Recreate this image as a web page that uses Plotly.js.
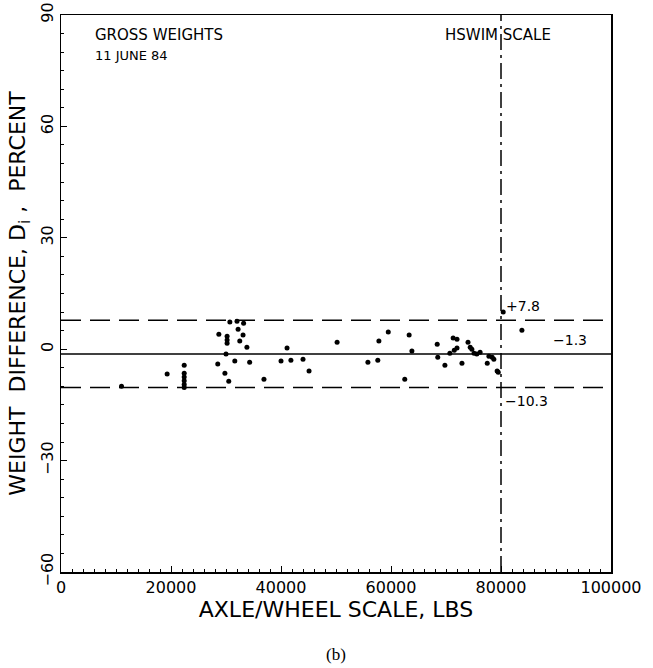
<!DOCTYPE html>
<html>
<head>
<meta charset="utf-8">
<script src="https://cdn.plot.ly/plotly-3.0.1.min.js"></script>
<style>html,body{margin:0;padding:0;background:#fff;}#chart{width:653px;height:668px;}</style>
</head>
<body>
<div id="chart"></div>
<script>
// Axle/wheel scale gross weight (lbs) vs weight difference (percent)
const axleWheelLbs = [
  11000, 19300, 22400, 22400, 22400, 22400, 22400, 22400,
  28500, 28700, 29800, 30000, 30200, 30200, 30200, 30500,
  30700, 31600, 32000, 32200, 32500, 33100, 33200, 33800, 34300,
  36900, 40000, 41100, 41800, 44000, 45100, 50200, 55800, 57600,
  57800, 59500, 62500, 63300, 63800, 68400, 68500, 69800, 70700,
  71300, 71500, 72000, 72000, 72900, 74000, 74400, 74700, 75100,
  75600, 76200, 77500, 77800, 78400, 78700, 79300, 79500, 80400, 83800
];
const weightDiffPct = [
  -10.0, -6.7, -4.3, -6.5, -7.5, -8.5, -9.5, -10.3,
  -4.0, 4.0, -6.5, -1.3, 3.5, 2.5, 1.6, -8.6,
  7.3, -3.2, 7.5, 5.4, 2.2, 3.8, 7.0, 0.5, -3.5,
  -8.1, -3.2, 0.3, -3.0, -2.7, -5.9, 1.9, -3.5, -3.0,
  2.2, 4.6, -8.1, 3.8, -0.5, 1.3, -2.2, -4.3, -1.1,
  3.0, -0.3, 2.7, 0.3, -3.8, 1.9, 0.5, 0.0, -1.1,
  -1.3, -0.8, -3.8, -1.9, -2.2, -2.7, -5.9, -6.2, 10.0, 5.1
];
// Reference lines: mean and band limits (percent), HSWIM scale limit (lbs)
const upperLimit = 7.8;
const meanDiff = -1.3;
const lowerLimit = -10.3;
const hswimLimit = 80000;
const xRange = [0, 100000];
const yRange = [-60, 90];
const xTicks = [0, 20000, 40000, 60000, 80000, 100000];
const yTicks = [-60, -30, 0, 30, 60, 90];

const font = "DejaVu Sans, Liberation Sans, sans-serif";

const traces = [
  {
    x: axleWheelLbs, y: weightDiffPct, type: "scatter", mode: "markers",
    marker: {color: "#000", size: 5}, hoverinfo: "skip", showlegend: false
  },
  {
    x: xRange, y: [upperLimit, upperLimit], type: "scatter", mode: "lines",
    line: {color: "#000", width: 1.5, dash: "20px,9px"}, showlegend: false
  },
  {
    x: xRange, y: [meanDiff, meanDiff], type: "scatter", mode: "lines",
    line: {color: "#000", width: 1.5}, showlegend: false
  },
  {
    x: xRange, y: [lowerLimit, lowerLimit], type: "scatter", mode: "lines",
    line: {color: "#000", width: 1.5, dash: "20px,9px"}, showlegend: false
  },
  {
    x: [hswimLimit, hswimLimit], y: yRange, type: "scatter", mode: "lines",
    line: {color: "#000", width: 1.5, dash: "16px,5px,3px,5px"}, showlegend: false
  }
];

const layout = {
  width: 653, height: 668,
  margin: {l: 61, r: 42, t: 15, b: 96},
  paper_bgcolor: "#fff", plot_bgcolor: "#fff",
  font: {family: font, color: "#000", size: 14},
  xaxis: {
    range: xRange, tickvals: xTicks, ticktext: xTicks.map(String),
    ticks: "inside", ticklen: 6, tickcolor: "#000", tickwidth: 1,
    minor: {dtick: 2000, ticks: "inside", ticklen: 3, tickcolor: "#000"},
    showline: true, linecolor: "#000", linewidth: 1.5, mirror: true,
    showgrid: false, zeroline: false,
    tickfont: {family: font, size: 16},
    title: {text: "AXLE/WHEEL SCALE, LBS", font: {family: font, size: 22}, standoff: 4}
  },
  yaxis: {
    range: yRange, tickvals: yTicks, ticktext: yTicks.map(v => v < 0 ? "\u2212" + Math.abs(v) : String(v)),
    tickangle: -90,
    ticks: "inside", ticklen: 6, tickcolor: "#000", tickwidth: 1,
    minor: {dtick: 5, ticks: "inside", ticklen: 3, tickcolor: "#000"},
    showline: true, linecolor: "#000", linewidth: 1.5, mirror: true,
    showgrid: false, zeroline: false,
    tickfont: {family: font, size: 16},
    title: {text: "WEIGHT\u00a0\u00a0DIFFERENCE, D<sub>i</sub>\u00a0, \u00a0PERCENT", font: {family: font, size: 22}, standoff: 6}
  },
  annotations: [
    {xref: "paper", yref: "paper", x: 0.058, y: 0.983, xanchor: "left", yanchor: "top",
     text: "GROSS WEIGHTS", showarrow: false, font: {family: font, size: 15}},
    {xref: "paper", yref: "paper", x: 0.058, y: 0.944, xanchor: "left", yanchor: "top",
     text: "11 JUNE 84", showarrow: false, font: {family: font, size: 13}},
    {xref: "paper", yref: "paper", x: 0.695, y: 0.983, xanchor: "left", yanchor: "top",
     text: "HSWIM SCALE", showarrow: false, font: {family: font, size: 15}},
    {xref: "x", yref: "y", x: hswimLimit + 600, y: upperLimit + 1.2, xanchor: "left", yanchor: "bottom",
     text: "+7.8", showarrow: false, font: {family: font, size: 14}},
    {xref: "x", yref: "y", x: 89000, y: meanDiff + 1.2, xanchor: "left", yanchor: "bottom",
     text: "\u22121.3", showarrow: false, font: {family: font, size: 14}},
    {xref: "x", yref: "y", x: hswimLimit + 300, y: lowerLimit - 1.0, xanchor: "left", yanchor: "top",
     text: "\u221210.3", showarrow: false, font: {family: font, size: 14}},
    {xref: "paper", yref: "paper", x: 0.5, y: -0.149, xanchor: "center", yanchor: "middle",
     text: "(b)", showarrow: false, font: {family: "Liberation Serif, serif", size: 17}}
  ]
};

Plotly.newPlot("chart", traces, layout, {staticPlot: true, displayModeBar: false});
</script>
</body>
</html>
